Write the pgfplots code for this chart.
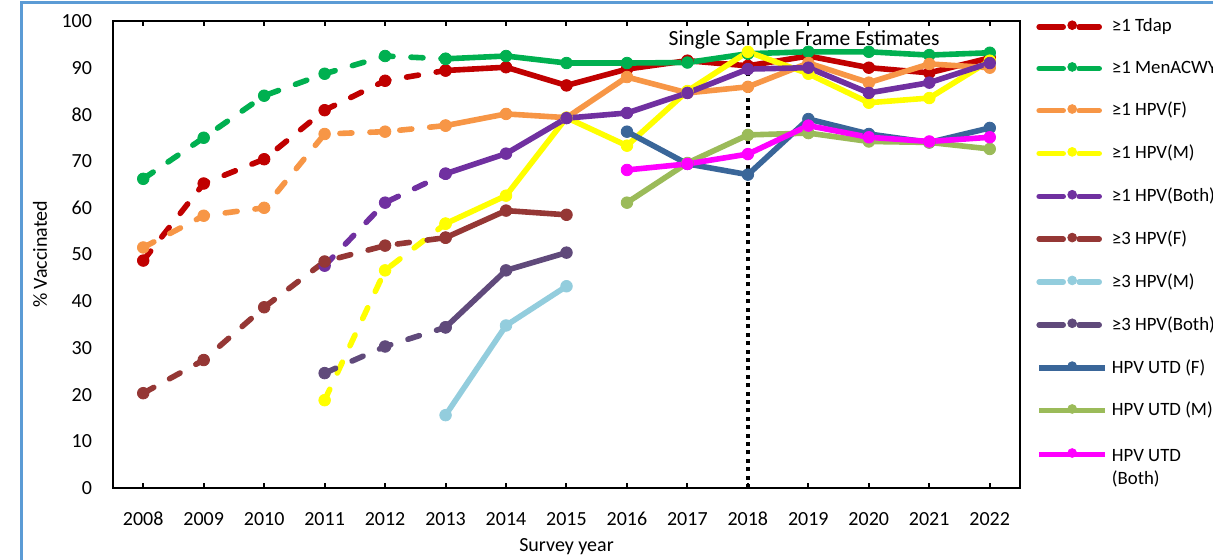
\documentclass[border=0pt]{standalone}
\usepackage{fontspec}
\setmainfont{Carlito}
\usepackage{pgfplots}
\pgfplotsset{compat=1.18}
\definecolor{ctdap}{HTML}{C00000}
\definecolor{cmen}{HTML}{00B050}
\definecolor{chf}{HTML}{F79646}
\definecolor{chm}{HTML}{FFFF00}
\definecolor{chb}{HTML}{7030A0}
\definecolor{cthf}{HTML}{953735}
\definecolor{cthm}{HTML}{93CDDD}
\definecolor{cthb}{HTML}{604A7B}
\definecolor{cuf}{HTML}{3A6699}
\definecolor{cum}{HTML}{9BBB59}
\definecolor{cub}{HTML}{FF00FF}
\definecolor{cframe}{HTML}{5B9BD5}
\pgfplotsset{
  dsh/.style={line width=2.8pt, dash pattern=on 6pt off 9pt, line cap=round, mark=*, mark size=2.9pt, mark options={solid, line width=0.4pt}, forget plot},
  sld/.style={line width=2.8pt, solid, line join=round, mark=*, mark size=2.9pt, mark options={line width=0.4pt}, forget plot},
  dleg/.style={legend image code/.code={
    \draw[##1,solid,mark=none,line cap=round] (0pt,0pt)--(12pt,0pt);
    \draw[##1,solid,mark=none,line cap=round] (20pt,0pt)--(30pt,0pt);
    \draw[##1,solid,mark size=2.2pt,mark options={line width=0.4pt}] plot coordinates {(16.5pt,0.8pt)};}},
  sleg/.style={legend image code/.code={
    \draw[##1,solid,mark=none] (0pt,0pt)--(33pt,0pt);
    \draw[##1,solid,mark size=2.2pt,mark options={line width=0.4pt}] plot coordinates {(16.5pt,0.8pt)};}},
}
\begin{document}
\begin{tikzpicture}
\useasboundingbox (-56.5pt,-36pt) rectangle (550pt,244pt);
\draw[cframe, line width=1.5pt] (-45.5pt,-40pt) -- (-45.5pt,242.5pt) -- (560pt,242.5pt);
\begin{axis}[
  at={(0pt,0pt)}, anchor=south west,
  width=453.5pt, height=233.5pt, scale only axis,
  xmin=2007.5, xmax=2022.5, ymin=0, ymax=100,
  xtick={2008,2009,...,2022}, ytick={0,10,...,100},
  /pgf/number format/assume math mode=true,
  xticklabel style={/pgf/number format/1000 sep=, yshift=-8.5pt},
  yticklabel style={xshift=-7pt},
  tick label style={font=\fontsize{10}{12}\selectfont},
  label style={font=\fontsize{10}{12}\selectfont},
  xlabel={Survey year}, ylabel={\% Vaccinated},
  xlabel style={at={(axis description cs:0.5,-0.126)}, anchor=center},
  ylabel style={at={(axis description cs:-0.0805,0.5)}, anchor=center},
  axis line style={line width=1pt},
  tick align=inside, major tick length=2.5pt,
  xtick style={line width=1pt, black},
  ytick style={draw=none},
  clip=false,
  legend style={at={(axis description cs:1.011,1.0227)}, anchor=north west, draw=none, fill=none,
    font=\fontsize{9.4}{11.5}\selectfont, row sep=9.05pt, legend cell align=left},
]
\addplot[black, line width=2pt, dash pattern=on 2pt off 2.2pt, forget plot] coordinates {(2018,0) (2018,94)};
\node[font=\fontsize{10.8}{13}\selectfont] at (axis cs:2018.93,96.0) {Single Sample Frame Estimates};
% >=1 Tdap
\addplot[dsh, ctdap] coordinates {(2008,48.7) (2009,65.2) (2010,70.4) (2011,80.9) (2012,87.2) (2013,89.4)};
\addplot[sld, ctdap] coordinates {(2013,89.4) (2014,90.1) (2015,86.2) (2016,89.7) (2017,91.5) (2018,90.4) (2019,92.5) (2020,90.0) (2021,88.9) (2022,92.1)};
% >=1 MenACWY
\addplot[dsh, cmen] coordinates {(2008,66.2) (2009,75.0) (2010,84.0) (2011,88.7) (2012,92.5) (2013,91.9)};
\addplot[sld, cmen] coordinates {(2013,91.9) (2014,92.5) (2015,91.0) (2016,91.0) (2017,91.1) (2018,93.0) (2019,93.4) (2020,93.4) (2021,92.7) (2022,93.2)};
% >=1 HPV(F)
\addplot[dsh, chf] coordinates {(2008,51.5) (2009,58.3) (2010,60.0) (2011,75.8) (2012,76.3) (2013,77.6)};
\addplot[sld, chf] coordinates {(2013,77.6) (2014,80.1) (2015,79.3) (2016,88.0) (2017,84.6) (2018,85.9) (2019,91.0) (2020,86.8) (2021,90.8) (2022,90.0)};
% >=1 HPV(M)
\addplot[dsh, chm] coordinates {(2011,18.8) (2012,46.6) (2013,56.6)};
\addplot[sld, chm] coordinates {(2013,56.6) (2014,62.6) (2015,79.3) (2016,73.3) (2017,85.0) (2018,93.4) (2019,88.7) (2020,82.5) (2021,83.5) (2022,91.5)};
% >=1 HPV(Both)
\addplot[dsh, chb] coordinates {(2011,47.6) (2012,61.1) (2013,67.3)};
\addplot[sld, chb] coordinates {(2013,67.3) (2014,71.6) (2015,79.2) (2016,80.3) (2017,84.6) (2018,89.7) (2019,90.0) (2020,84.6) (2021,86.8) (2022,91.0)};
% >=3 HPV(F)
\addplot[dsh, cthf] coordinates {(2008,20.3) (2009,27.4) (2010,38.7) (2011,48.5) (2012,51.9) (2013,53.6)};
\addplot[sld, cthf] coordinates {(2013,53.6) (2014,59.4) (2015,58.5)};
% >=3 HPV(M)
\addplot[sld, cthm] coordinates {(2013,15.6) (2014,34.8) (2015,43.2)};
% >=3 HPV(Both)
\addplot[dsh, cthb] coordinates {(2011,24.6) (2012,30.3) (2013,34.4)};
\addplot[sld, cthb] coordinates {(2013,34.4) (2014,46.6) (2015,50.4)};
% HPV UTD
\addplot[sld, cuf] coordinates {(2016,76.3) (2017,69.4) (2018,67.1) (2019,79.0) (2020,75.8) (2021,74.0) (2022,77.1)};
\addplot[sld, cum] coordinates {(2016,61.1) (2017,69.6) (2018,75.6) (2019,76.0) (2020,74.2) (2021,74.0) (2022,72.6)};
\addplot[sld, cub] coordinates {(2016,68.1) (2017,69.4) (2018,71.5) (2019,77.6) (2020,75.1) (2021,74.2) (2022,75.1)};
% legend
\addlegendimage{dleg, ctdap, line width=2.8pt, mark=*}
\addlegendentry{≥1 Tdap}
\addlegendimage{dleg, cmen, line width=2.8pt, mark=*}
\addlegendentry{≥1 MenACWY}
\addlegendimage{dleg, chf, line width=2.8pt, mark=*}
\addlegendentry{≥1 HPV(F)}
\addlegendimage{dleg, chm, line width=2.8pt, mark=*}
\addlegendentry{≥1 HPV(M)}
\addlegendimage{dleg, chb, line width=2.8pt, mark=*}
\addlegendentry{≥1 HPV(Both)}
\addlegendimage{dleg, cthf, line width=2.8pt, mark=*}
\addlegendentry{≥3 HPV(F)}
\addlegendimage{dleg, cthm, line width=2.8pt, mark=*}
\addlegendentry{≥3 HPV(M)}
\addlegendimage{dleg, cthb, line width=2.8pt, mark=*}
\addlegendentry{≥3 HPV(Both)}
\addlegendimage{sleg, cuf, line width=2.8pt, mark=*}
\addlegendentry{HPV UTD (F)}
\addlegendimage{sleg, cum, line width=2.8pt, mark=*}
\addlegendentry{HPV UTD (M)}
\addlegendimage{sleg, cub, line width=2.8pt, mark=*}
\addlegendentry{\begin{tabular}[t]{@{}l@{}}HPV UTD\\(Both)\end{tabular}}
\end{axis}
\end{tikzpicture}
\end{document}
